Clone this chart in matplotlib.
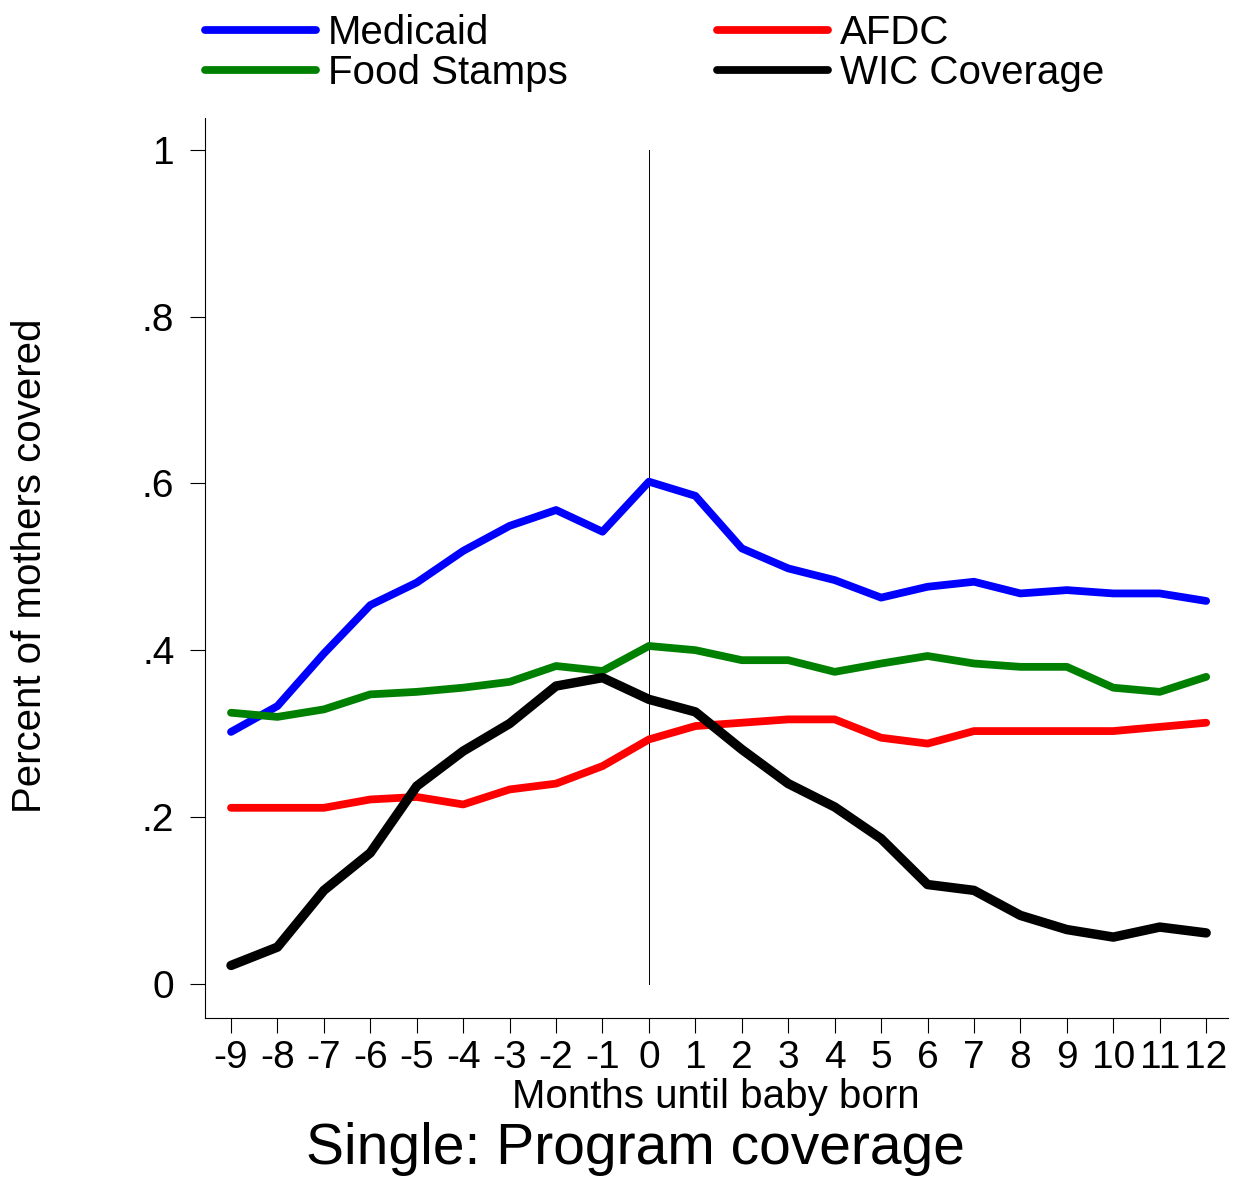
import matplotlib
matplotlib.use("Agg")
from matplotlib import pyplot as plt
import numpy as np

plt.rcParams['font.family'] = ['Liberation Sans', 'DejaVu Sans']

# months relative to birth
months = np.arange(-9, 13)

medicaid = [0.302, 0.333, 0.396, 0.454, 0.481, 0.519, 0.549, 0.568, 0.542, 0.602, 0.585,
            0.522, 0.498, 0.484, 0.463, 0.476, 0.482, 0.468, 0.472, 0.468, 0.468, 0.459]
food_stamps = [0.325, 0.320, 0.329, 0.347, 0.350, 0.355, 0.362, 0.381, 0.375, 0.405, 0.400,
               0.388, 0.388, 0.374, 0.384, 0.393, 0.384, 0.380, 0.380, 0.355, 0.350, 0.368]
afdc = [0.211, 0.211, 0.211, 0.221, 0.224, 0.215, 0.233, 0.240, 0.261, 0.293, 0.309,
        0.313, 0.317, 0.317, 0.295, 0.288, 0.303, 0.303, 0.303, 0.303, 0.308, 0.313]
wic = [0.022, 0.044, 0.112, 0.157, 0.237, 0.279, 0.312, 0.357, 0.367, 0.341, 0.326,
       0.281, 0.240, 0.212, 0.174, 0.119, 0.112, 0.082, 0.065, 0.056, 0.068, 0.061]

ytick_vals = [0, 0.2, 0.4, 0.6, 0.8, 1]
ytick_labels = ["0", ".2", ".4", ".6", ".8", "1"]

W, H = 1235, 1180
fig = plt.figure(figsize=(W / 100, H / 100), dpi=100)
ax = fig.add_axes([205 / W, 1 - 1018 / H, (1228 - 205) / W, (1018 - 118) / H])

fs = 28
lw = 5.6

# reference line at birth
ax.plot([0, 0], [0, 1], color="black", lw=0.7, zorder=1)

l_med, = ax.plot(months, medicaid, color="#0000ff", lw=lw, solid_capstyle="round", label="Medicaid")
l_afdc, = ax.plot(months, afdc, color="#ff0000", lw=lw, solid_capstyle="round", label="AFDC")
l_fs, = ax.plot(months, food_stamps, color="#008000", lw=lw, solid_capstyle="round", label="Food Stamps")
l_wic, = ax.plot(months, wic, color="black", lw=6.8, solid_capstyle="round", label="WIC Coverage")

ax.set_xlim(-9.56, 12.47)
ax.set_ylim(-0.041, 1.038)
ax.set_xticks(months)
ax.set_xticklabels([str(m) for m in months])
ax.set_yticks(ytick_vals)
ax.set_yticklabels(ytick_labels)

for s in ["top", "right"]:
    ax.spines[s].set_visible(False)
for s in ["left", "bottom"]:
    ax.spines[s].set_linewidth(0.8)

ax.tick_params(axis="y", direction="out", length=11, width=0.8, pad=11, labelsize=fs)
ax.tick_params(axis="x", direction="out", length=10.5, width=0.8, pad=5, labelsize=fs)

fig.text(716 / W, 1 - 1097 / H, "Months until baby born", ha="center", va="center", fontsize=29)
fig.text(30 / W, 1 - 566 / H, "Percent of mothers covered", ha="center", va="center",
         rotation=90, fontsize=29)
fig.text(635 / W, 1 - 1149 / H, "Single: Program coverage", ha="center", va="center", fontsize=41)

leg = fig.legend([l_med, l_fs, l_afdc, l_wic],
                 ["Medicaid", "Food Stamps", "AFDC", "WIC Coverage"],
                 ncol=2, loc="upper left", bbox_to_anchor=(205 / W, 1 - 14 / H),
                 frameon=False, fontsize=29, handlelength=2.75, handletextpad=0.3,
                 columnspacing=3.7, labelspacing=0.05, borderpad=0, borderaxespad=0)
for h in leg.legend_handles:
    h.set_linewidth(5.6)

fig.savefig("out.png", dpi=100, facecolor="white")
